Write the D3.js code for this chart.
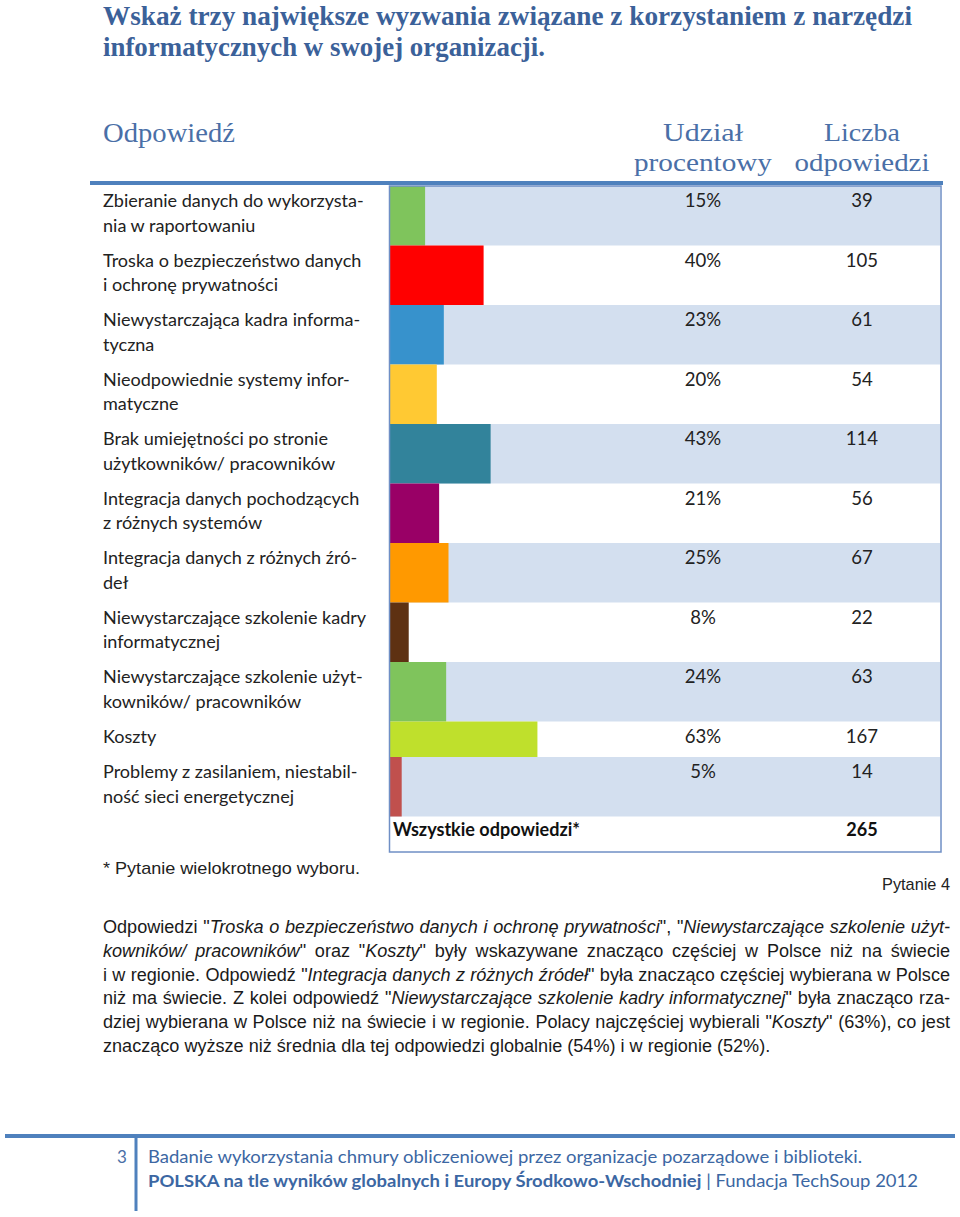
<!DOCTYPE html>
<html><head><meta charset="utf-8">
<script src="https://cdn.jsdelivr.net/npm/d3@7"></script>
<style>body{margin:0;background:#fff} svg{display:block} text{white-space:pre}</style>
</head><body>
<svg id="c" width="960" height="1217"></svg>
<script>
// ---------- DATA ----------
const title = ["Wskaż trzy największe wyzwania związane z korzystaniem z narzędzi",
               "informatycznych w swojej organizacji."];
const headerAnswer = "Odpowiedź";
const headerPercent = ["Udział", "procentowy"];
const headerCount = ["Liczba", "odpowiedzi"];
const categories = [
  "Zbieranie danych do wykorzysta-\nnia w raportowaniu",
  "Troska o bezpieczeństwo danych\ni ochronę prywatności",
  "Niewystarczająca kadra informa-\ntyczna",
  "Nieodpowiednie systemy infor-\nmatyczne",
  "Brak umiejętności po stronie\nużytkowników/ pracowników",
  "Integracja danych pochodzących\nz różnych systemów",
  "Integracja danych z różnych źró-\ndeł",
  "Niewystarczające szkolenie kadry\ninformatycznej",
  "Niewystarczające szkolenie użyt-\nkowników/ pracowników",
  "Koszty",
  "Problemy z zasilaniem, niestabil-\nność sieci energetycznej"
];
const percents = [15, 40, 23, 20, 43, 21, 25, 8, 24, 63, 5];
const counts = [39, 105, 61, 54, 114, 56, 67, 22, 63, 167, 14];
const barColors = ["#7fc45c", "#ff0000", "#3792cc", "#ffc933", "#32839b", "#990066",
                   "#ff9900", "#5e3112", "#7fc45c", "#bfe02c", "#c0504d"];
const totalLabel = "Wszystkie odpowiedzi*";
const totalCount = 265;
const footnote = "* Pytanie wielokrotnego wyboru.";
const questionTag = "Pytanie 4";
const paragraph = [
  [["Odpowiedzi \"",0],["Troska o bezpieczeństwo danych i ochronę prywatności",1],["\", \"",0],["Niewystarczające szkolenie użyt-",1]],
  [["kowników/ pracowników",1],["\" oraz \"",0],["Koszty",1],["\" były wskazywane znacząco częściej w Polsce niż na świecie",0]],
  [["i w regionie. Odpowiedź \"",0],["Integracja danych z różnych źródeł",1],["\" była znacząco częściej wybierana w Polsce",0]],
  [["niż ma świecie. Z kolei odpowiedź \"",0],["Niewystarczające szkolenie kadry informatycznej",1],["\" była znacząco rza-",0]],
  [["dziej wybierana w Polsce niż na świecie i w regionie. Polacy najczęściej wybierali \"",0],["Koszty",1],["\" (63%), co jest",0]],
  [["znacząco wyższe niż średnia dla tej odpowiedzi globalnie (54%) i w regionie (52%).",0]]
];
const pageNumber = "3";
const footerLine1 = "Badanie wykorzystania chmury obliczeniowej przez organizacje pozarządowe i biblioteki.";
const footerLine2 = [["POLSKA na tle wyników globalnych i Europy Środkowo-Wschodniej",1],[" | Fundacja TechSoup 2012",0]];

// ---------- LAYOUT ----------
const svg = d3.select("#c");
const SERIF = "'Liberation Serif', 'DejaVu Serif', serif";
const CAL = "Lato, 'Open Sans', sans-serif";
const ARIAL = "'Liberation Sans', Arial, sans-serif";
const titleColor = "#3b6199", headColor = "#4a6fa7", textColor = "#222";

function fitLen(sel, w) { sel.attr("textLength", w).attr("lengthAdjust", "spacingAndGlyphs"); }

// Title
const titleW = [809, 442];
svg.selectAll("text.title").data(title).join("text").attr("class","title")
  .attr("x", 103).attr("y", (d,i) => 25 + i*31)
  .attr("font-family", SERIF).attr("font-weight", "bold").attr("font-size", 28)
  .attr("fill", titleColor).text(d => d)
  .each(function(d,i){ fitLen(d3.select(this), titleW[i]); });

// Headers
fitLen(svg.append("text").attr("x",103).attr("y",142).attr("font-family",SERIF).attr("font-size",28)
  .attr("fill",headColor).text(headerAnswer), 132);
const pctX = 703, cntX = 862;
const hp = [[headerPercent, pctX, [80, 138]], [headerCount, cntX, [76, 135]]];
hp.forEach(([lines, cx, ws]) => {
  lines.forEach((t, i) => {
    fitLen(svg.append("text").attr("x", cx).attr("y", 141 + i*30).attr("text-anchor","middle")
      .attr("font-family",SERIF).attr("font-size",26).attr("fill",headColor).text(t), ws[i]);
  });
});

// Top rule
svg.append("line").attr("x1",90).attr("x2",943).attr("y1",183).attr("y2",183)
  .attr("stroke","#4f81bd").attr("stroke-width",4);

// Rows
const lineH = 24, pad = 11.5, top0 = 186;
const rows = categories.map((c, i) => ({label: c.split("\n"), p: percents[i], n: counts[i], color: barColors[i], i}));
let acc = top0;
rows.forEach(r => { r.h = pad + lineH * r.label.length; r.y = acc; acc += r.h; });
const totalY = acc, totalH = pad + lineH, bottom = totalY + totalH;

const boxL = 390, boxR = 940;
const x = d3.scaleLinear().domain([0, 100]).range([boxL, boxL + 234]);

// backgrounds
svg.selectAll("rect.bg").data(rows.filter(r => r.i % 2 === 0)).join("rect").attr("class","bg")
  .attr("x", boxL).attr("y", r => r.y).attr("width", boxR - boxL).attr("height", r => r.h)
  .attr("fill", "#d3dfef");
// bars
svg.selectAll("rect.bar").data(rows).join("rect").attr("class","bar")
  .attr("x", x(0)).attr("y", r => r.y).attr("width", r => x(r.p) - x(0)).attr("height", r => r.h)
  .attr("fill", r => r.color);
// border
svg.append("rect").attr("x", boxL - 0.5).attr("y", top0).attr("width", boxR - boxL + 1.5).attr("height", bottom - top0)
  .attr("fill","none").attr("stroke","#6f8fc5").attr("stroke-width",1.5);

// labels
const lbl = svg.selectAll("text.lbl").data(rows).join("text").attr("class","lbl")
  .attr("font-family", CAL).attr("font-size", 17).attr("fill", textColor);
lbl.selectAll("tspan").data(r => r.label.map((t,k) => ({t, k, y: r.y + 21 + k*24.5}))).join("tspan")
  .attr("x", 103).attr("y", d => d.y).text(d => d.t);
const probe = lbl.filter(r => r.i === 0).select("tspan").node();
const labelFS = 17 * 261 / probe.getComputedTextLength();
lbl.attr("font-size", labelFS);

svg.selectAll("text.pct").data(rows).join("text").attr("class","pct")
  .attr("x", pctX).attr("y", r => r.y + 21).attr("text-anchor","middle")
  .attr("font-family", CAL).attr("font-size", labelFS + 0.5).attr("fill", textColor).text(r => r.p + "%");
svg.selectAll("text.cnt").data(rows).join("text").attr("class","cnt")
  .attr("x", cntX).attr("y", r => r.y + 21).attr("text-anchor","middle")
  .attr("font-family", CAL).attr("font-size", labelFS + 0.5).attr("fill", textColor).text(r => r.n);

// total row
svg.append("text").attr("x", 393).attr("y", totalY + 19).attr("font-family", CAL).attr("font-weight","bold")
  .attr("font-size", labelFS).attr("fill","#111").text(totalLabel);
svg.append("text").attr("x", cntX).attr("y", totalY + 19).attr("text-anchor","middle").attr("font-family", CAL)
  .attr("font-weight","bold").attr("font-size", labelFS).attr("fill","#111").text(totalCount);

// footnote & question tag
fitLen(svg.append("text").attr("x",103).attr("y",874).attr("font-family",ARIAL).attr("font-size",17)
  .attr("fill",textColor).text(footnote), 257);
fitLen(svg.append("text").attr("x",950).attr("y",890).attr("text-anchor","end").attr("font-family",ARIAL)
  .attr("font-size",17).attr("fill",textColor).text(questionTag), 68);

// paragraph
const para = svg.selectAll("text.para").data(paragraph).join("text").attr("class","para")
  .attr("x", 103).attr("y", (d,i) => 933 + i*23.8)
  .attr("font-family", ARIAL).attr("font-size", 16).attr("fill", "#1a1a1a");
para.selectAll("tspan").data(d => d).join("tspan")
  .attr("font-style", d => d[1] ? "italic" : "normal").text(d => d[0]);
const lastNode = para.filter((d,i) => i === paragraph.length - 1).node();
const paraFS = 16 * 668 / lastNode.getComputedTextLength();
para.attr("font-size", paraFS);
para.each(function(d, i) {
  if (i === paragraph.length - 1) return;
  const full = d.map(s => s[0]).join("");
  const spaces = (full.match(/ /g) || []).length;
  const w = this.getComputedTextLength();
  d3.select(this).style("word-spacing", ((950 - 103 - w) / spaces) + "px");
});

// footer
svg.append("line").attr("x1",5).attr("x2",955).attr("y1",1136).attr("y2",1136)
  .attr("stroke","#4f81bd").attr("stroke-width",4);
svg.append("line").attr("x1",136).attr("x2",136).attr("y1",1136).attr("y2",1211)
  .attr("stroke","#4f81bd").attr("stroke-width",3);
svg.append("text").attr("x",122).attr("y",1163).attr("text-anchor","middle").attr("font-family",CAL)
  .attr("font-size",17).attr("fill","#4a6fa7").text(pageNumber);
fitLen(svg.append("text").attr("x",148).attr("y",1163).attr("font-family",CAL).attr("font-size",17)
  .attr("fill","#3c67a3").text(footerLine1), 714);
const f2 = svg.append("text").attr("x",148).attr("y",1187).attr("font-family",CAL).attr("font-size",17).attr("fill","#3c67a3");
f2.selectAll("tspan").data(footerLine2).join("tspan").attr("font-weight", d => d[1] ? "bold" : "normal").text(d => d[0]);
fitLen(f2, 770);
</script>
</body></html>
